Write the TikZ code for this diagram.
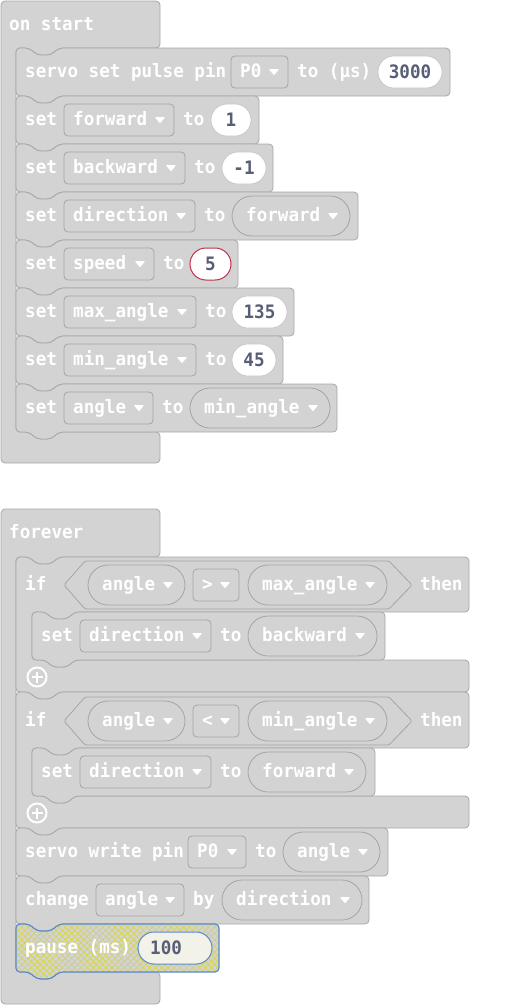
\documentclass[tikz,border=0pt]{standalone}
\usepackage{fontspec}
\newfontfamily\bfont{DejaVu Sans Mono}[FakeStretch=0.95]
\usetikzlibrary{patterns.meta}
\definecolor{blkfill}{HTML}{D3D3D3}
\definecolor{blkline}{HTML}{A8A8A8}
\definecolor{fldline}{HTML}{A4A4A4}
\definecolor{numtxt}{HTML}{575E75}
\definecolor{numline}{HTML}{C4C4C4}
\definecolor{pauseline}{HTML}{5A8AC8}
\definecolor{hatch}{HTML}{D6D448}
\definecolor{pausefld}{HTML}{F2F2E8}
\definecolor{redline}{HTML}{C0304A}
\tikzset{
 blk/.style={fill=blkfill, draw=blkline, line width=0.8pt, rounded corners=4pt},
 pausebase/.style={fill=blkfill, rounded corners=4pt},
 pausehatch/.style={pattern={Lines[angle=45,distance=4.4pt,line width=0.6pt]}, pattern color=hatch, rounded corners=4pt},
 pausehatchb/.style={pattern={Lines[angle=-45,distance=4.4pt,line width=0.6pt]}, pattern color=hatch, rounded corners=4pt},
 pauseborder/.style={draw=pauseline, line width=1.2pt, rounded corners=4pt},
 fld/.style={fill=blkfill, draw=fldline, line width=0.8pt},
 lbl/.style={text=white, inner sep=0pt, font=\bfont\bfseries\fontsize{18.5}{21}\selectfont, anchor=base west},
 numlbl/.style={text=numtxt, inner sep=0pt, font=\bfont\bfseries\fontsize{18.5}{21}\selectfont, anchor=base},
 numfld/.style={fill=white, draw=numline, line width=0.6pt},
 redfld/.style={fill=white, draw=redline, line width=1pt},
 tri/.style={fill=white, draw=white, line width=1.2pt, line join=round},
}
% statement block: [style] x1 x2 ytop ybot
\newcommand\stmt[5][blk]{%
 \path[#1] (#2,#4) -- ({#2+13},#4) -- ({#2+21},{#4+7}) -- ({#2+35},{#4+7}) -- ({#2+43},#4) -- (#3,#4) -- (#3,#5) -- ({#2+43},#5) -- ({#2+35},{#5+7}) -- ({#2+21},{#5+7}) -- ({#2+13},#5) -- (#2,#5) -- cycle;}
% if block: ytop yrow yin ybot
\newcommand\ifblk[4]{%
 \path[blk] (16,#1) -- (29,#1) -- (37,{#1+7}) -- (51,{#1+7}) -- (59,#1) -- (469,#1) -- (469,#2) -- (75,#2) -- (67,{#2+7}) -- (53,{#2+7}) -- (45,#2) -- (32,#2) -- (32,#3) -- (45,#3) -- (53,{#3+7}) -- (67,{#3+7}) -- (75,#3) -- (469,#3) -- (469,#4) -- (59,#4) -- (51,{#4+7}) -- (37,{#4+7}) -- (29,#4) -- (16,#4) -- cycle;}
% hexagon: top bot
\newcommand\hexa[2]{%
 \draw[fld, rounded corners=1.5pt] (64,{(#1+#2)/2}) -- (85,#1) -- (389,#1) -- (412,{(#1+#2)/2}) -- (389,#2) -- (85,#2) -- cycle;}
\newcommand\lbl[4]{\node[lbl] (#1) at (#2,{#3+5.8}) {#4};}
\newcommand\downtri[2]{\filldraw[tri] ({#1-8},{#2-2.3}) -- (#1,{#2-2.3}) -- ({#1-4},{#2+2.3}) -- cycle;}
% dropdown: name x1 x2 yc text
\newcommand\dd[5]{%
 \draw[fld, rounded corners=4pt] (#2,{#4-16}) rectangle (#3,{#4+16});
 \node[lbl] (#1) at ({#2+9},{#4+5.8}) {#5};
 \downtri{#3-10}{#4}}
% variable reporter: name x1 x2 yc text
\newcommand\vr[5]{%
 \draw[fld, rounded corners=20pt] (#2,{#4-20}) rectangle (#3,{#4+20});
 \node[lbl] (#1) at ({#2+14},{#4+5.8}) {#5};
 \downtri{#3-13}{#4}}
% number: [style] name x1 x2 yc text
\newcommand\num[6][numfld]{%
 \draw[#1, rounded corners=16pt] (#3,{#5-16}) rectangle (#4,{#5+16});
 \node[numlbl] (#2) at ({(#3+#4)/2},{#5+6.8}) {#6};}
\newcommand\plusicon[3]{%
 \node[circle, draw=white, line width=2pt, minimum size=19pt, inner sep=0pt] (#1) at (#2,#3) {};
 \draw[white, line width=2.6pt] ({#2-5.5},#3) -- ({#2+5.5},#3);
 \draw[white, line width=2.6pt] (#2,{#3-5.5}) -- (#2,{#3+5.5});}
\begin{document}
\begin{tikzpicture}[x=1pt,y=-1pt]
\useasboundingbox (0,0) rectangle (521,1005);
% ---------- on start ----------
\path[blk] (1,1) -- (160,1) -- (160,48) -- (59,48) -- (51,55) -- (37,55) -- (29,48) -- (16,48) -- (16,432) -- (29,432) -- (37,439) -- (51,439) -- (59,432) -- (160,432) -- (160,463) -- (1,463) -- cycle;
\lbl{onstart}{9}{25}{on start}
\stmt{16}{450}{48}{96}
\stmt{16}{259}{96}{144}
\stmt{16}{273}{144}{192}
\stmt{16}{358}{192}{240}
\stmt{16}{238}{240}{288}
\stmt{16}{294}{288}{336}
\stmt{16}{283}{336}{384}
\stmt{16}{337}{384}{432}
% S1
\lbl{sa}{25}{72}{servo set pulse pin}
\dd{sapin}{231}{288}{72}{P0}
\lbl{sato}{297}{72}{to (µs)}
\num{saval}{378}{442}{72}{3000}
% S2
\lbl{sb}{25}{120}{set}
\dd{sbvar}{64}{174}{120}{forward}
\lbl{sbto}{183}{120}{to}
\num{sbval}{211}{251}{120}{1}
% S3
\lbl{sc}{25}{168}{set}
\dd{scvar}{64}{185}{168}{backward}
\lbl{scto}{194}{168}{to}
\num{scval}{222}{266}{168}{-1}
% S4
\lbl{sd}{25}{216}{set}
\dd{sdvar}{64}{195}{216}{direction}
\lbl{sdto}{204}{216}{to}
\vr{sdval}{232}{350}{216}{forward}
% S5
\lbl{se}{25}{264}{set}
\dd{sevar}{64}{154}{264}{speed}
\lbl{seto}{163}{264}{to}
\num[redfld]{seval}{190}{231}{264}{5}
% S6
\lbl{sf}{25}{312}{set}
\dd{sfvar}{64}{196}{312}{max\_angle}
\lbl{sfto}{205}{312}{to}
\num{sfval}{232}{287}{312}{135}
% S7
\lbl{sg}{25}{360}{set}
\dd{sgvar}{64}{196}{360}{min\_angle}
\lbl{sgto}{205}{360}{to}
\num{sgval}{232}{276}{360}{45}
% S8
\lbl{sh}{25}{408}{set}
\dd{shvar}{64}{153}{408}{angle}
\lbl{shto}{162}{408}{to}
\vr{shval}{190}{330}{408}{min\_angle}
% ---------- forever ----------
\path[blk] (1,509) -- (160,509) -- (160,557) -- (59,557) -- (51,564) -- (37,564) -- (29,557) -- (16,557) -- (16,972) -- (29,972) -- (37,979) -- (51,979) -- (59,972) -- (160,972) -- (160,1004) -- (1,1004) -- cycle;
\lbl{forever}{9}{533}{forever}
\ifblk{557}{612}{660}{692}
\ifblk{692}{748}{796}{828}
\stmt{16}{388}{828}{876}
\stmt{16}{369}{876}{924}
\stmt[pausebase]{16}{219}{924}{972}
\stmt[pausehatch]{16}{219}{924}{972}
\stmt[pausehatchb]{16}{219}{924}{972}
\stmt[pauseborder]{16}{219}{924}{972}
% if 1
\hexa{561}{609}
\lbl{ifa}{25}{585}{if}
\vr{ifaleft}{88}{185}{585}{angle}
\dd{ifaop}{193}{239}{585}{>}
\vr{ifaright}{248}{387}{585}{max\_angle}
\lbl{ifathen}{420}{585}{then}
\stmt{32}{385}{612}{660}
\lbl{ia}{41}{636}{set}
\dd{iavar}{80}{211}{636}{direction}
\lbl{iato}{220}{636}{to}
\vr{iaval}{248}{377}{636}{backward}
\plusicon{plusa}{37}{677}
% if 2
\hexa{697}{745}
\lbl{ifb}{25}{721}{if}
\vr{ifbleft}{88}{185}{721}{angle}
\dd{ifbop}{193}{239}{721}{<}
\vr{ifbright}{248}{387}{721}{min\_angle}
\lbl{ifbthen}{420}{721}{then}
\stmt{32}{375}{748}{796}
\lbl{ib}{41}{772}{set}
\dd{ibvar}{80}{211}{772}{direction}
\lbl{ibto}{220}{772}{to}
\vr{ibval}{248}{366}{772}{forward}
\plusicon{plusb}{37}{813}
% servo write
\lbl{sw}{25}{852}{servo write pin}
\dd{swpin}{188}{246}{852}{P0}
\lbl{swto}{255}{852}{to}
\vr{swval}{283}{380}{852}{angle}
% change
\lbl{ch}{25}{900}{change}
\dd{chvar}{96}{184}{900}{angle}
\lbl{chby}{193}{900}{by}
\vr{chval}{222}{362}{900}{direction}
% pause
\lbl{pa}{25}{948}{pause (ms)}
\draw[fill=pausefld, draw=pauseline, line width=1pt, rounded corners=16pt] (138,932) rectangle (212,964);
\node[numlbl, anchor=base west] (paval) at (150,954.8) {100};
\end{tikzpicture}
\end{document}
